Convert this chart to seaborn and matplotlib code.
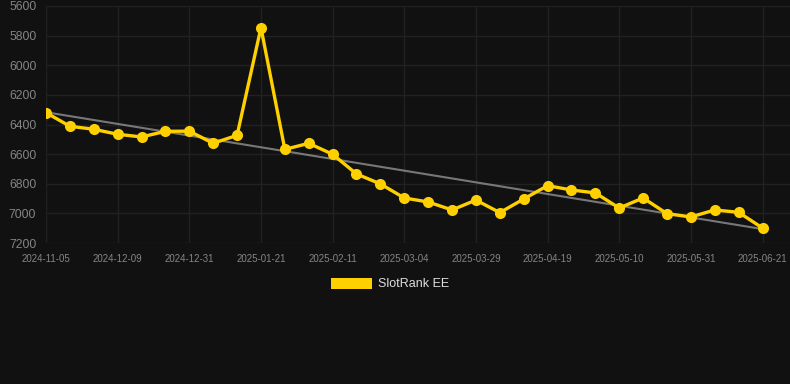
import matplotlib
matplotlib.use("Agg")
import matplotlib.pyplot as plt
from matplotlib.patches import Patch
import seaborn as sns
import numpy as np
import pandas as pd

# ---- data ----
tick_labels = ["2024-11-05", "2024-12-09", "2024-12-31", "2025-01-21", "2025-02-11",
               "2025-03-04", "2025-03-29", "2025-04-19", "2025-05-10", "2025-05-31",
               "2025-06-21"]
ranks = [6320, 6412, 6432, 6466, 6484, 6446, 6445, 6527, 6473, 5746,
         6568, 6527, 6601, 6734, 6801, 6896, 6923, 6977, 6910, 6995,
         6903, 6813, 6842, 6862, 6964, 6896, 7002, 7024, 6977, 6993,
         7099]
series_name = "SlotRank EE"

df = pd.DataFrame({"idx": np.arange(len(ranks)), "rank": ranks})

BG = "#111111"
GOLD = "#ffd000"
GRID = "#212121"
TXT = "#858585"

sns.set_style("dark")
plt.rcParams["font.family"] = ["Liberation Sans", "DejaVu Sans"]
fig = plt.figure(figsize=(7.9, 3.84), dpi=100, facecolor=BG)
ax = fig.add_axes([46 / 790, 1 - 243 / 384, 1 - 46 / 790, (243 - 6) / 384])
ax.set_facecolor(BG)

# trend line
sns.regplot(data=df, x="idx", y="rank", scatter=False, ci=None, ax=ax,
            line_kws=dict(color="#8a8a8a", linewidth=1.5, alpha=0.85, zorder=2))
# main series
sns.lineplot(data=df, x="idx", y="rank", ax=ax, color=GOLD, linewidth=2.4,
             marker="o", markersize=8, markeredgewidth=0, zorder=3)

ax.set_ylim(7200, 5600)
ax.set_xlim(0, 31.15)
ax.set_yticks([5600, 5800, 6000, 6200, 6400, 6600, 6800, 7000, 7200])
ax.set_xticks(np.arange(0, len(ranks), 3))
ax.set_xticklabels(tick_labels)
ax.set_xlabel("")
ax.set_ylabel("")
ax.grid(True, color=GRID, linewidth=1.0)
for s in ax.spines.values():
    s.set_visible(False)
ax.tick_params(axis="y", colors=TXT, labelsize=8.7, length=0, pad=7)
ax.tick_params(axis="x", colors=TXT, labelsize=7, length=0, pad=8)

fig.legend(handles=[Patch(facecolor=GOLD, edgecolor="none", label=series_name)],
           loc="center", bbox_to_anchor=(390 / 790, 1 - 284 / 384), frameon=False,
           fontsize=9, labelcolor="#dddddd", handlelength=3.3, handleheight=1.0,
           handletextpad=0.5)

fig.savefig("out.png", dpi=100, facecolor=BG)
